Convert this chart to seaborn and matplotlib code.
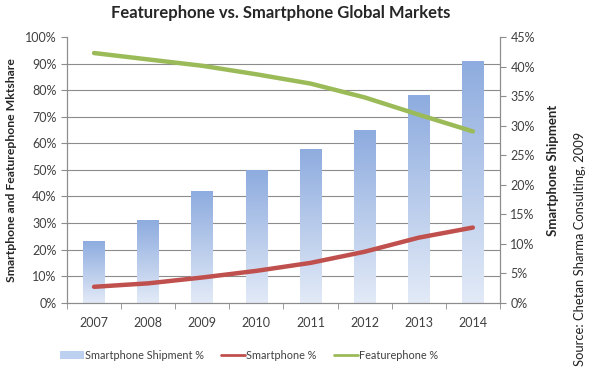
import numpy as np
import pandas as pd
import matplotlib
matplotlib.use("Agg")
import matplotlib.pyplot as plt
import seaborn as sns
from matplotlib.colors import LinearSegmentedColormap
from matplotlib.patches import Patch
from matplotlib.lines import Line2D
from matplotlib.ticker import PercentFormatter

years = ["2007", "2008", "2009", "2010", "2011", "2012", "2013", "2014"]
shipment = [10.4, 14.0, 18.9, 22.5, 26.1, 29.3, 35.2, 40.9]      # right axis, %
smartphone = [6.0, 7.3, 9.5, 12.0, 15.0, 19.2, 24.5, 28.3]       # left axis, %
featurephone = [94.0, 91.6, 89.2, 86.0, 82.5, 77.3, 70.8, 64.5]  # left axis, %

df = pd.DataFrame({"year": years, "shipment": shipment,
                   "smartphone": smartphone, "featurephone": featurephone})

sns.set_style("white")
plt.rcParams["font.family"] = ["Lato", "DejaVu Sans"]

RED = "#c0504d"
GREEN = "#9bbb59"
GRID = "#8c8c8c"
TXT = "#404040"

fig = plt.figure(figsize=(5.93, 3.71), dpi=100)
ax = fig.add_axes([0.113, 0.184, 0.730, 0.716])
ax2 = ax.twinx()
ax.set_zorder(2)
ax2.set_zorder(1)
ax.patch.set_visible(False)

# bars on the right axis
sns.barplot(data=df, x="year", y="shipment", ax=ax2, width=0.4, color="#8fb0e3")
grad = LinearSegmentedColormap.from_list("g", ["#e2eaf7", "#8eacdf"])
for p in ax2.patches:
    x0, y0 = p.get_x(), p.get_y()
    w, h = p.get_width(), p.get_height()
    im = ax2.imshow(np.linspace(0, 1, 100).reshape(-1, 1), cmap=grad, origin="lower",
                    extent=[x0, x0 + w, y0, y0 + h], aspect="auto", zorder=2)
    im.set_clip_path(p)
    p.set_facecolor("none")
    p.set_edgecolor("none")

# lines on the left axis
sns.lineplot(data=df, x="year", y="featurephone", ax=ax, color=GREEN, lw=3.2, sort=False)
sns.lineplot(data=df, x="year", y="smartphone", ax=ax, color=RED, lw=3.2, sort=False)

ax.set_xlim(-0.5, len(years) - 0.5)
ax.set_ylim(0, 100)
ax2.set_ylim(0, 45)
ax.set_yticks(np.arange(0, 101, 10))
ax2.set_yticks(np.arange(0, 46, 5))
ax.yaxis.set_major_formatter(PercentFormatter(decimals=0))
ax2.yaxis.set_major_formatter(PercentFormatter(decimals=0))

# gridlines behind bars, at the left-axis 10% steps
ax2.set_yticks(np.linspace(0, 45, 11), minor=True)
ax2.grid(which="minor", axis="y", color=GRID, lw=0.8)
ax2.tick_params(axis="y", which="minor", length=0)

ax.set_xticks(range(len(years)))
ax.set_xticklabels(years)
ax.set_xticks(np.arange(-0.5, len(years), 1), minor=True)
ax.tick_params(axis="x", which="major", length=0, pad=10, labelsize=9, labelcolor=TXT)
ax.tick_params(axis="x", which="minor", length=4, color=GRID, direction="out", bottom=True)
ax.tick_params(axis="y", length=4, color=GRID, direction="out", left=True, labelsize=9, labelcolor=TXT)
ax2.tick_params(axis="y", length=4, color=GRID, direction="out", right=True, labelsize=9, labelcolor=TXT)
ax2.tick_params(axis="x", length=0)

for a in (ax, ax2):
    for s in a.spines.values():
        s.set_color(GRID)
        s.set_linewidth(0.8)
    a.spines["top"].set_visible(False)

ax.set_xlabel("")
ax2.set_xlabel("")
ax.set_ylabel("Smartphone and Featurephone Mktshare", fontsize=8.8, fontweight="bold", labelpad=6)
ax2.set_ylabel("Smartphone Shipment", fontsize=9.5, fontweight="bold", labelpad=9)

fig.text(0.474, 0.965, "Featurephone vs. Smartphone Global Markets",
         ha="center", va="center", fontsize=12, fontweight="bold")
fig.text(0.978, 0.329, "Source: Chetan Sharma Consulting, 2009", rotation=90,
         ha="center", va="center", fontsize=9.4, color="#222222")

handles = [Patch(facecolor="#bcd0ef", edgecolor="none"),
           Line2D([], [], color=RED, lw=2),
           Line2D([], [], color=GREEN, lw=2)]
labels = ["Smartphone Shipment %", "Smartphone %", "Featurephone %"]
fig.legend(handles, labels, loc="center", bbox_to_anchor=(0.42, 0.043), ncol=3,
           frameon=False, fontsize=7.8, handlelength=2.2, handletextpad=0.1,
           columnspacing=1.6, labelcolor=TXT)

fig.savefig("out.png", dpi=100)
